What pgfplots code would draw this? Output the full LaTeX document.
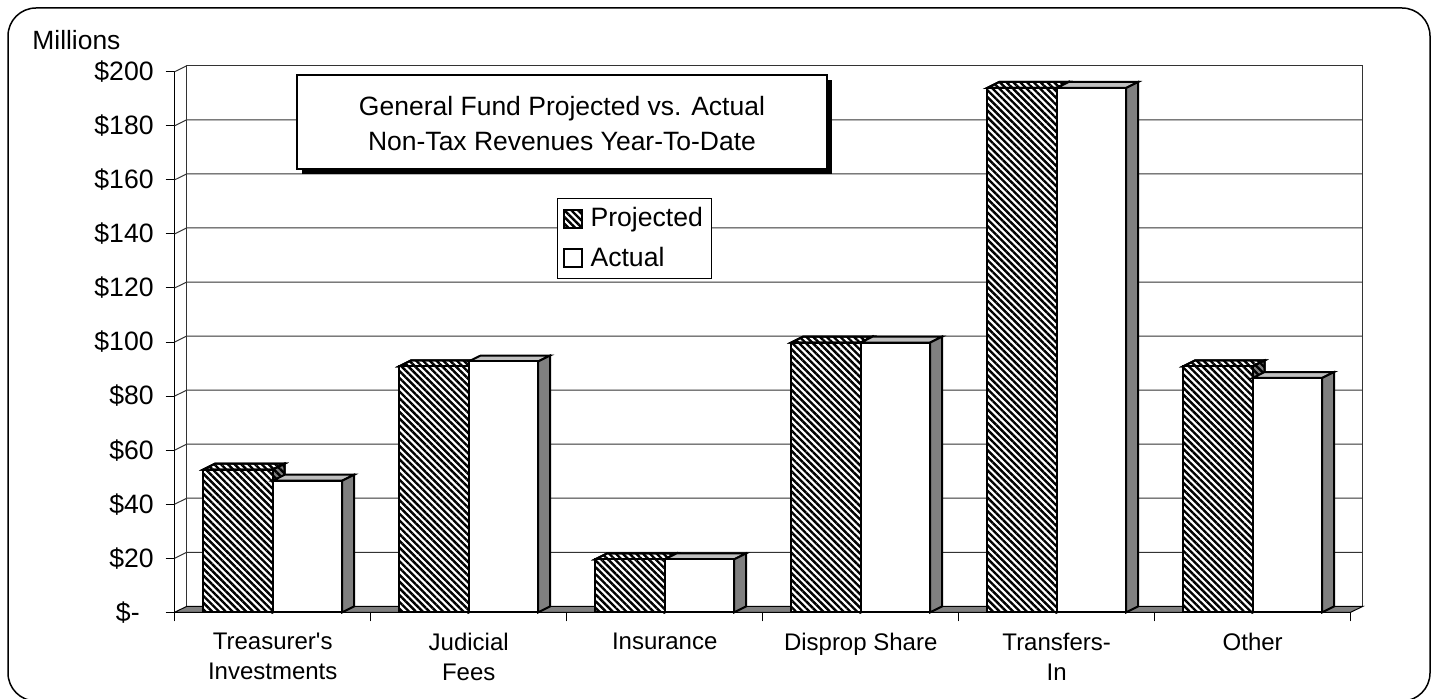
\documentclass[border=0pt]{standalone}
\usepackage{fontspec}
\setmainfont{Liberation Sans}[Ligatures=TeXOff]
\usepackage{pgfplots}
\pgfplotsset{compat=1.18}
\usetikzlibrary{patterns.meta}

% 1 reference pixel = 0.5pt
\tikzset{hatch/.style={pattern={Lines[angle=-45,distance=2.4pt,line width=1.2pt]},pattern color=black}}

% depth of the fake 3D in axis units
\def\dx{0.0612}
\def\dy{2.2}
\def\bw{0.3546}

% top and side faces of one bar: left edge, value, style of top, style of side
\newcommand{\faces}[4]{%
  \pgfmathsetmacro\xa{#1}
  \pgfmathsetmacro\xb{#1+\bw}
  \pgfmathsetmacro\xc{#1+\dx}
  \pgfmathsetmacro\xd{#1+\bw+\dx}
  \pgfmathsetmacro\yt{#2+\dy}
  \addplot[forget plot,#3] coordinates {(\xa,#2) (\xc,\yt) (\xd,\yt) (\xb,#2)} --cycle;
  \addplot[forget plot,#4] coordinates {(\xb,#2) (\xd,\yt) (\xd,\dy) (\xb,0)} --cycle;
}

\begin{document}
\begin{tikzpicture}
\path[use as bounding box] (0,0) rectangle (717.5pt,349pt);
\begin{axis}[
  at={(87.35pt,42.85pt)}, anchor=south west,
  scale only axis, width=588pt, height=270.3pt,
  xmin=0, xmax=6, ymin=0, ymax=200,
  clip=false,
  axis x line=bottom, axis y line=left,
  axis line style={-,line width=0.5pt,black},
  xtick={0,1,2,3,4,5,6},
  x tick label as interval,
  xticklabels={{Treasurer's\\Investments},{Judicial\\Fees},Insurance,Disprop Share,{Transfers-\\In},Other},
  x tick label style={align=center,font=\fontsize{12}{15}\selectfont,yshift=-2.5pt},
  ytick={0,20,40,60,80,100,120,140,160,180,200},
  yticklabels={\$-\rule{7pt}{0pt},\$20,\$40,\$60,\$80,\$100,\$120,\$140,\$160,\$180,\$200},
  y tick label style={font=\fontsize{13.3}{15}\selectfont,xshift=-2.5pt},
  tick align=outside,
  major tick length=4.5pt,
  tick style={black,line width=0.5pt},
  legend style={at={(0.3251,0.7664)},anchor=north west,draw=black,line width=0.5pt,
    font=\fontsize{13.3}{15}\selectfont,inner sep=2.5pt,row sep=4.5pt,legend cell align=left,
    nodes={inner xsep=1.5pt}},
  legend image code/.code={\draw[line width=1pt,#1] (0pt,-4.5pt) rectangle (9pt,4.5pt);},
]
% back wall
\addplot[forget plot,black!80,line width=0.5pt] coordinates {(0.0612,2.2) (0.0612,202.2) (6.0612,202.2) (6.0612,2.2)};
% gridlines: along the side wall, then across the back wall
\addplot[forget plot,black!80,line width=0.5pt,unbounded coords=jump] table {
x y
0 20
0.0612 22.2
6.0612 22.2
0 nan
0 40
0.0612 42.2
6.0612 42.2
0 nan
0 60
0.0612 62.2
6.0612 62.2
0 nan
0 80
0.0612 82.2
6.0612 82.2
0 nan
0 100
0.0612 102.2
6.0612 102.2
0 nan
0 120
0.0612 122.2
6.0612 122.2
0 nan
0 140
0.0612 142.2
6.0612 142.2
0 nan
0 160
0.0612 162.2
6.0612 162.2
0 nan
0 180
0.0612 182.2
6.0612 182.2
0 nan
0 200
0.0612 202.2
};
% floor
\addplot[forget plot,fill=black!50,draw=black,line width=0.5pt] coordinates {(0,0) (0.0612,2.2) (6.0612,2.2) (6,0)} --cycle;

% projected: top and side faces, then fronts
\faces{0.1454}{52.8}{preaction={fill=white},hatch,draw=black,line width=1pt}{preaction={fill=black!50},hatch,draw=black,line width=1pt}
\faces{1.1454}{91}{preaction={fill=white},hatch,draw=black,line width=1pt}{preaction={fill=black!50},hatch,draw=black,line width=1pt}
\faces{2.1454}{19.6}{preaction={fill=white},hatch,draw=black,line width=1pt}{preaction={fill=black!50},hatch,draw=black,line width=1pt}
\faces{3.1454}{99.8}{preaction={fill=white},hatch,draw=black,line width=1pt}{preaction={fill=black!50},hatch,draw=black,line width=1pt}
\faces{4.1454}{194}{preaction={fill=white},hatch,draw=black,line width=1pt}{preaction={fill=black!50},hatch,draw=black,line width=1pt}
\faces{5.1454}{91}{preaction={fill=white},hatch,draw=black,line width=1pt}{preaction={fill=black!50},hatch,draw=black,line width=1pt}
\addplot[forget plot,ybar,bar width=34.75pt,bar shift=-17.375pt,draw=black,line width=1pt,preaction={fill=white},hatch]
  coordinates {(0.5,52.8) (1.5,91) (2.5,19.6) (3.5,99.8) (4.5,194) (5.5,91)};

% actual: top and side faces, then fronts
\faces{0.5}{48.7}{fill=black!25,draw=black,line width=1pt}{fill=black!50,draw=black,line width=1pt}
\faces{1.5}{92.8}{fill=black!25,draw=black,line width=1pt}{fill=black!50,draw=black,line width=1pt}
\faces{2.5}{19.6}{fill=black!25,draw=black,line width=1pt}{fill=black!50,draw=black,line width=1pt}
\faces{3.5}{99.8}{fill=black!25,draw=black,line width=1pt}{fill=black!50,draw=black,line width=1pt}
\faces{4.5}{194}{fill=black!25,draw=black,line width=1pt}{fill=black!50,draw=black,line width=1pt}
\faces{5.5}{86.7}{fill=black!25,draw=black,line width=1pt}{fill=black!50,draw=black,line width=1pt}
\addplot[forget plot,ybar,bar width=34.75pt,bar shift=17.375pt,draw=black,line width=1pt,fill=white]
  coordinates {(0.5,48.7) (1.5,92.8) (2.5,19.6) (3.5,99.8) (4.5,194) (5.5,86.7)};

\addlegendimage{preaction={fill=white},hatch}
\addlegendentry{\rule{2.5pt}{0pt}Projected\rule{0.5pt}{0pt}}
\addlegendimage{fill=white}
\addlegendentry{\rule{2.5pt}{0pt}Actual}
\end{axis}
% title box with its shadow
\fill[black] (151pt,262pt) rectangle (416pt,309pt);
\draw[black,line width=0.75pt,fill=white] (148.5pt,264.5pt) rectangle (413.5pt,311.5pt);
\node[align=center,font=\fontsize{13.25}{17.5}\selectfont,inner sep=0pt] at (281pt,287pt) {General Fund Projected vs. Actual\\Non-Tax Revenues Year-To-Date};
\node[anchor=base west,inner sep=0pt,font=\fontsize{13.2}{15}\selectfont] at (16pt,324pt) {Millions};
% outer frame, its bottom edge falls just off the page
\draw[black,line width=0.75pt,rounded corners=14pt] (4pt,-1.5pt) rectangle (715pt,345pt);
\end{tikzpicture}
\end{document}
